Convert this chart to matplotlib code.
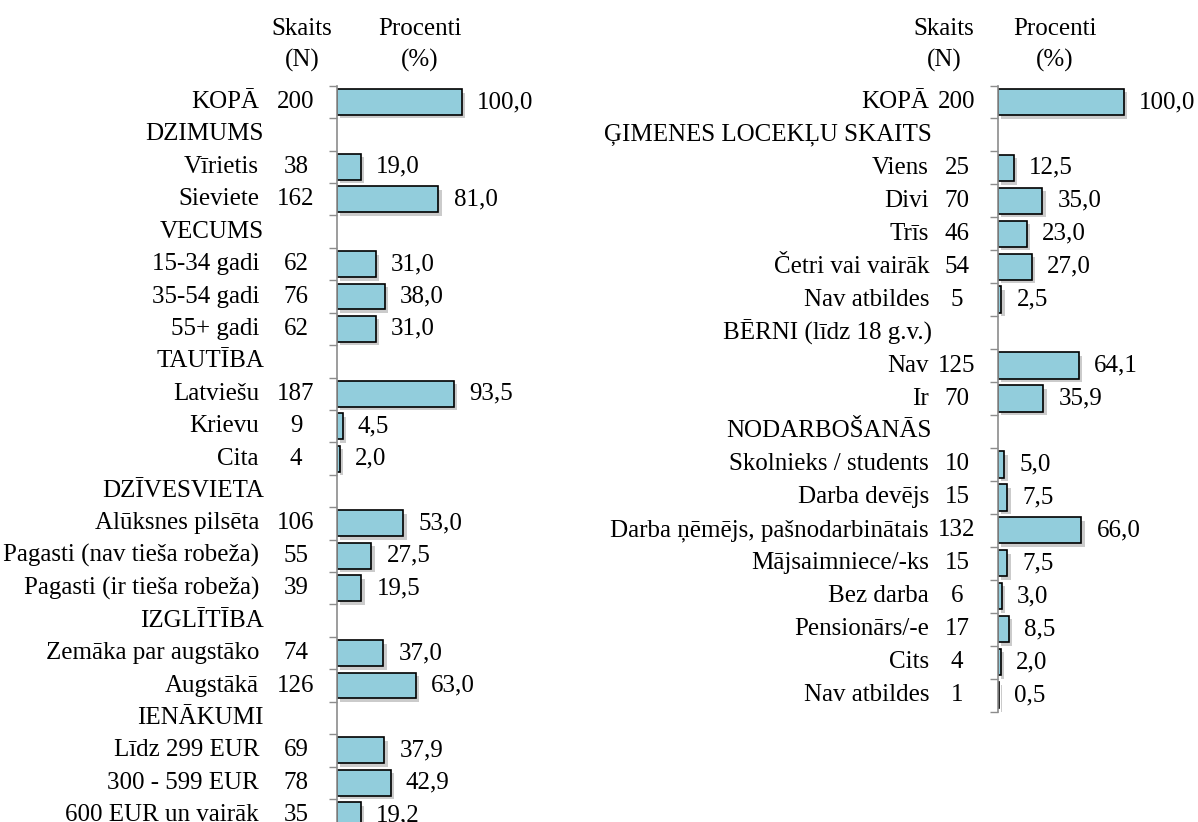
import numpy as np
import matplotlib.pyplot as plt
import matplotlib.patheffects as pe

plt.rcParams['font.family'] = ['Liberation Serif', 'DejaVu Serif']

# left panel
cats_left = ["KOPĀ", "DZIMUMS", "Vīrietis", "Sieviete", "VECUMS", "15-34 gadi", "35-54 gadi",
             "55+ gadi", "TAUTĪBA", "Latviešu", "Krievu", "Cita", "DZĪVESVIETA", "Alūksnes pilsēta",
             "Pagasti (nav tieša robeža)", "Pagasti (ir tieša robeža)", "IZGLĪTĪBA",
             "Zemāka par augstāko", "Augstākā", "IENĀKUMI", "Līdz 299 EUR", "300 - 599 EUR",
             "600 EUR un vairāk"]
n_left = [200, None, 38, 162, None, 62, 76, 62, None, 187, 9, 4, None, 106, 55, 39, None,
          74, 126, None, 69, 78, 35]
pct_left = [100.0, None, 19.0, 81.0, None, 31.0, 38.0, 31.0, None, 93.5, 4.5, 2.0, None,
            53.0, 27.5, 19.5, None, 37.0, 63.0, None, 37.9, 42.9, 19.2]

# right panel
cats_right = ["KOPĀ", "ĢIMENES LOCEKĻU SKAITS", "Viens", "Divi", "Trīs", "Četri vai vairāk",
              "Nav atbildes", "BĒRNI (līdz 18 g.v.)", "Nav", "Ir", "NODARBOŠANĀS",
              "Skolnieks / students", "Darba devējs", "Darba ņēmējs, pašnodarbinātais",
              "Mājsaimniece/-ks", "Bez darba", "Pensionārs/-e", "Cits", "Nav atbildes"]
n_right = [200, None, 25, 70, 46, 54, 5, None, 125, 70, None, 10, 15, 132, 15, 6, 17, 4, 1]
pct_right = [100.0, None, 12.5, 35.0, 23.0, 27.0, 2.5, None, 64.1, 35.9, None, 5.0, 7.5,
             66.0, 7.5, 3.0, 8.5, 2.0, 0.5]

W, H = 1198, 822
FS = 18
BAR = '#92CDDC'
AX_W = 200  # px


def panel(rect_px, cats, counts, pcts, xmax, lab_x, cnt_x, head_x):
    x0, top, bottom = rect_px
    ax = fig.add_axes([x0 / W, 1 - bottom / H, AX_W / W, (bottom - top) / H])
    n = len(cats)
    y = np.arange(n)
    vals = [p if p is not None else 0 for p in pcts]
    bars = ax.barh(y, vals, height=0.8, color=BAR, edgecolor='black', linewidth=1.2)
    for b, p in zip(bars, pcts):
        if p is None:
            b.set_visible(False)
        else:
            b.set_path_effects([pe.SimplePatchShadow(offset=(2.5, -2.5), shadow_rgbFace='#999999',
                                                     alpha=0.5), pe.Normal()])
    ax.set_xlim(0, xmax)
    ax.set_ylim(n - 0.5, -0.5)
    ax.set_yticks(np.arange(n + 1) - 0.5)
    ax.set_yticklabels([])
    ax.tick_params(axis='y', direction='out', length=6, color='#8c8c8c', width=1)
    ax.set_xticks([])
    for s in ['top', 'right', 'bottom']:
        ax.spines[s].set_visible(False)
    ax.spines['left'].set_color('#8c8c8c')
    ax.spines['left'].set_linewidth(1.2)
    ax.patch.set_alpha(0)

    tr = ax.get_yaxis_transform()
    for i, (c, k, p) in enumerate(zip(cats, counts, pcts)):
        if k is None:
            ax.text((head_x - x0) / AX_W, i, c, transform=tr, ha='right', va='center',
                    fontsize=FS, clip_on=False)
            continue
        ax.text((lab_x - x0) / AX_W, i, c, transform=tr, ha='right', va='center',
                fontsize=FS, clip_on=False)
        ax.text((cnt_x - x0) / AX_W, i, str(k), transform=tr, ha='center', va='center',
                fontsize=FS, clip_on=False)
        ax.annotate(f"{p:.1f}".replace('.', ','), xy=(p, i), xytext=(11, 0),
                    textcoords='offset points', ha='left', va='center', fontsize=FS,
                    annotation_clip=False)
    return ax


fig = plt.figure(figsize=(W / 100, H / 100), dpi=100)

panel((337, 85.8, 831.4), cats_left, n_left, pct_left, 160, 259, 296, 264)
panel((998, 85.5, 711.5), cats_right, n_right, pct_right, 158.7, 929, 957, 932)

for hx, txt in [(302, "Skaits\n(N)"), (420, "Procenti\n(%)"),
                (944, "Skaits\n(N)"), (1055, "Procenti\n(%)")]:
    fig.text(hx / W, 1 - 45 / H, txt, ha='center', va='center', fontsize=FS,
             linespacing=1.45)

fig.savefig('out.png', dpi=100)
